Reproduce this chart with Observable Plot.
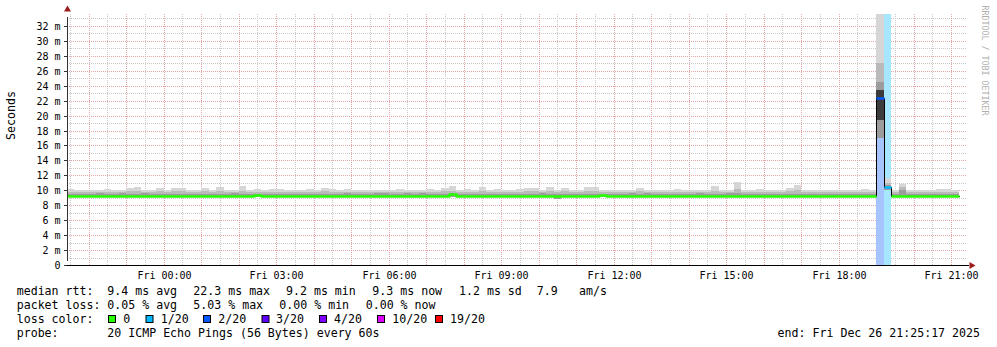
<!DOCTYPE html>
<html><head><meta charset="utf-8">
<script src="https://cdn.jsdelivr.net/npm/d3@7"></script>
<script src="https://cdn.jsdelivr.net/npm/@observablehq/plot@0.6"></script>
<style>
html,body{margin:0;padding:0;background:#fff;}
#wrap{width:997px;height:347px;overflow:hidden;background:#fff;}
svg{display:block;}
</style></head><body><div id="wrap"></div>
<script>
// ---- time frame (UTC used as local graph time) ----
const endTime = new Date(Date.UTC(2025, 11, 26, 21, 25, 17));
const startTime = new Date(+endTime - 24 * 3600 * 1000);
const firstBinStart = Date.UTC(2025, 11, 25, 21, 24, 0);
const binMinutes = 12;

// ---- per-bin values (ms), one per 12-minute step ----
const median = [
 9.25,9.25,9.2,9.25,9.25,9.25,9.2,9.25,9.3,9.25,
 9.25,9.25,9.25,9.2,9.25,9.25,9.25,9.25,9.3,9.25,
 9.25,9.25,9.25,9.25,9.25,9.4,9.25,9.25,9.25,9.2,
 9.25,9.25,9.25,9.25,9.25,9.2,9.25,9.25,9.25,9.25,
 9.25,9.25,9.2,9.25,9.25,9.25,9.25,9.25,9.25,9.25,
 9.25,9.45,9.25,9.25,9.25,9.25,9.2,9.25,9.25,9.25,
 9.25,9.25,9.25,9.25,9.25,9.2,9.25,9.25,9.25,9.25,
 9.25,9.4,9.25,9.25,9.2,9.25,9.25,9.25,9.25,9.25,
 9.25,9.25,9.25,9.25,9.25,9.25,9.25,9.25,9.25,9.25,
 9.25,9.25,9.25,9.25,9.25,9.25,9.3,9.25,9.25,9.25,
 9.25,9.25,9.25,9.25,9.25,9.25,9.25,9.25,22.3,10.4,
 9.2,9.25,9.25,9.25,9.25,9.25,9.25,9.25,9.3];
const lossCount = [
 0,0,0,0,0,0,0,0,0,0, 0,0,0,0,0,0,0,0,0,0,
 0,0,0,0,0,0,0,0,0,0, 0,0,0,0,0,0,0,0,0,0,
 0,0,0,0,0,0,0,0,0,0, 0,0,0,0,0,0,0,0,0,0,
 0,0,0,0,0,0,0,0,0,0, 0,0,0,0,0,0,0,0,0,0,
 0,0,0,0,0,0,0,0,0,0, 0,0,0,0,0,0,0,0,0,0,
 0,0,0,0,0,0,0,0,2,1, 0,0,0,0,0,0,0,0,0];
const smokeTop = [
 10.15,10.05,10.05,10.1,10.05,10.15,10.05,10.05,10.3,10.45,
 10.05,10.1,10.3,10.05,10.3,10.3,10.05,10.1,10.3,10.05,
 10.45,10.05,10.05,10.6,10.05,10.15,10.05,10.15,10.15,10.05,
 10.05,10.1,10.15,10.05,10.3,10.15,10.05,10.15,10.05,10.1,
 10.05,10.05,10.1,10.05,10.15,10.05,10.05,10.1,10.15,10.05,
 10.3,10.6,10.05,10.15,10.05,10.4,10.05,10.15,10.05,10.05,
 10.15,10.3,10.3,10.05,10.45,10.05,10.3,10.05,10.1,10.45,
 10.45,10.05,10.05,10.1,10.05,10.05,10.3,10.05,10.05,10.1,
 10.05,10.15,10.05,10.05,10.1,10.05,10.6,10.05,10.05,11.1,
 10.05,10.05,10.15,10.05,10.05,10.1,10.3,10.7,10.05,10.05,
 10.05,10.1,10.05,10.05,10.05,10.1,10.15,10.05,33.6,11.6,
 10.05,10.9,10.05,10.1,10.05,10.05,10.15,10.15,10.1];
const smokeUpper = [
 9.75,9.75,9.75,9.75,9.75,9.75,9.75,9.75,9.85,9.9,
 9.75,9.75,9.85,9.75,9.85,9.85,9.75,9.75,9.85,9.75,
 9.9,9.75,9.75,9.95,9.75,9.8,9.75,9.75,9.75,9.75,
 9.75,9.75,9.75,9.75,9.85,9.75,9.75,9.75,9.75,9.75,
 9.75,9.75,9.75,9.75,9.75,9.75,9.75,9.75,9.75,9.75,
 9.85,9.95,9.75,9.75,9.75,9.85,9.75,9.75,9.75,9.75,
 9.75,9.85,9.85,9.75,9.9,9.75,9.85,9.75,9.75,9.9,
 9.9,9.8,9.75,9.75,9.75,9.75,9.85,9.75,9.75,9.75,
 9.75,9.75,9.75,9.75,9.75,9.75,9.95,9.75,9.75,10.2,
 9.75,9.75,9.75,9.75,9.75,9.75,9.85,10.0,9.75,9.75,
 9.75,9.75,9.75,9.75,9.75,9.75,9.75,9.75,27.0,11.0,
 9.75,10.4,9.75,9.75,9.75,9.75,9.75,9.75,9.75];
const smokeInner = [
 9.45,9.45,9.45,9.45,9.6,9.45,9.45,9.6,9.45,9.5,
 9.6,9.45,9.45,9.45,9.5,9.45,9.45,9.45,9.45,9.45,
 9.5,9.45,9.6,9.5,9.45,9.55,9.45,9.45,9.45,9.45,
 9.45,9.45,9.45,9.45,9.45,9.45,9.45,9.6,9.45,9.45,
 9.45,9.6,9.6,9.45,9.45,9.6,9.45,9.6,9.45,9.45,
 9.45,9.6,9.45,9.45,9.45,9.5,9.45,9.45,9.45,9.45,
 9.45,9.45,9.45,9.6,9.5,9.45,9.45,9.45,9.45,9.5,
 9.5,9.55,9.45,9.45,9.45,9.6,9.45,9.6,9.45,9.45,
 9.45,9.45,9.45,9.45,9.6,9.45,9.5,9.45,9.6,9.6,
 9.45,9.45,9.45,9.45,9.45,9.45,9.5,9.55,9.45,9.45,
 9.45,9.45,9.45,9.45,9.45,9.45,9.45,9.45,24.5,10.7,
 9.45,10.1,9.45,9.45,9.45,9.45,9.45,9.45,9.45];
const smokeBottom = [
 9.05,9.05,9.05,9.05,9.05,9.05,9.05,9.05,9.05,9.05,
 9.05,9.05,9.05,9.05,9.05,9.05,9.05,9.05,9.05,9.05,
 9.05,9.05,9.05,9.05,9.05,9.05,9.05,9.05,9.05,9.05,
 9.05,9.05,9.05,9.05,9.05,9.05,9.05,9.05,9.05,9.05,
 9.05,9.05,9.05,9.05,9.05,9.05,9.05,9.05,9.05,9.05,
 9.05,9.05,9.05,9.05,9.05,9.05,9.05,9.05,9.05,9.05,
 9.05,9.05,9.05,9.05,9.05,8.9,9.05,9.05,9.05,9.05,
 9.05,9.05,9.05,9.05,9.05,9.05,9.05,9.05,9.05,9.05,
 9.05,9.05,9.05,9.05,9.05,9.05,9.05,9.05,9.05,9.05,
 9.05,9.05,9.05,9.05,9.05,9.05,9.05,9.05,9.05,9.05,
 9.05,9.05,9.05,9.05,9.05,9.05,9.05,9.05,17.0,10.0,
 9.05,9.1,9.05,9.05,9.05,9.05,9.05,9.05,9.05];
// darkest core of the smoke in the spike step
const coreBins = [108];
const coreLow = [19.4];
const coreHigh = [23.4];

// ---- loss colour legend ----
const lossLevels = [0, 1, 2, 3, 4, 10, 19];
const lossLabels = ["0", "1/20", "2/20", "3/20", "4/20", "10/20", "19/20"];
const lossColors = ["#26ff00", "#00b8ff", "#0059ff", "#5e00ff", "#7e00ff", "#dd00ff", "#ff0000"];

// ---- axes ----
const yTickValues = [0,2,4,6,8,10,12,14,16,18,20,22,24,26,28,30,32];
const yTickLabels = ["0","2 m","4 m","6 m","8 m","10 m","12 m","14 m","16 m","18 m","20 m","22 m","24 m","26 m","28 m","30 m","32 m"];
const xTickValues = ["2025-12-26T00:00:00Z","2025-12-26T03:00:00Z","2025-12-26T06:00:00Z","2025-12-26T09:00:00Z",
  "2025-12-26T12:00:00Z","2025-12-26T15:00:00Z","2025-12-26T18:00:00Z","2025-12-26T21:00:00Z"].map(s => new Date(s));
const xTickLabels = ["Fri 00:00","Fri 03:00","Fri 06:00","Fri 09:00","Fri 12:00","Fri 15:00","Fri 18:00","Fri 21:00"];
const yMax = 33.6;

// ---- legend texts ----
const rttLabel = "median rtt:";
const rttStats = ["9.4 ms avg", "22.3 ms max", "9.2 ms min", "9.3 ms now", "1.2 ms sd", "7.9", "am/s"];
const lossLabel = "packet loss:";
const lossStats = ["0.05 % avg", "5.03 % max", "0.00 % min", "0.00 % now"];
const colorLabel = "loss color:";
const probeLabel = "probe:";
const probeText = "20 ICMP Echo Pings (56 Bytes) every 60s";
const endText = "end: Fri Dec 26 21:25:17 2025";
const yLabel = "Seconds";
const watermark = "RRDTOOL / TOBI OETIKER";

// ---- build tables ----
const stepMs = binMinutes * 60 * 1000;
const classOf = l => { let k = 0; lossLevels.forEach((v, i) => { if (l >= v) k = i; }); return k; };
const bins = median.map((m, i) => {
  const a = firstBinStart + i * stepMs;
  return {t0: new Date(Math.max(a, +startTime)), t1: new Date(a + stepMs), median: m,
    loss: lossCount[i], cls: classOf(lossCount[i]),
    top: smokeTop[i], upper: smokeUpper[i], inner: smokeInner[i], bottom: smokeBottom[i]};
});
const cores = coreBins.map((b, k) => ({t0: bins[b].t0, t1: bins[b].t1, lo: coreLow[k], hi: coreHigh[k]}));
const lossBins = bins.filter(b => b.loss > 0);
let run = 0;
const pts = [];
bins.forEach((b, i) => {
  if (i > 0 && b.cls !== bins[i - 1].cls) run++;
  pts.push({t: b.t0, m: b.median, cls: b.cls, run}, {t: b.t1, m: b.median, cls: b.cls, run});
});
const lightOf = c => d3.interpolateRgb("#ffffff", c)(0.35);

const minorY = d3.range(1, 34, 2);
const majorY = d3.range(2, 34, 2);
const minorX = d3.utcMinute.every(30).range(startTime, endTime).filter(d => d.getUTCMinutes() === 30);
const majorX = d3.utcHour.range(startTime, endTime);
const gridMinor = "#c8c8c8", gridMajor = "#e6a6a6";
const crisp = {shapeRendering: "crispEdges"};

const chart = Plot.plot({
  width: 997, height: 285,
  marginLeft: 67, marginRight: 30, marginTop: 14, marginBottom: 20,
  style: {fontFamily: "'DejaVu Sans Mono', monospace", fontSize: "10px", background: "#fff", color: "#000", overflow: "visible"},
  x: {type: "utc", domain: [startTime, endTime], round: true},
  y: {domain: [0, yMax], round: true},
  marks: [
    Plot.ruleY(minorY, {stroke: gridMinor, strokeDasharray: "1,1"}),
    Plot.ruleX(minorX, {stroke: gridMinor, strokeDasharray: "1,1"}),
    Plot.ruleY(majorY, {stroke: gridMajor, strokeDasharray: "1,1"}),
    Plot.ruleX(majorX, {stroke: gridMajor, strokeDasharray: "1,1"}),
    Plot.rectY(lossBins, {x1: "t0", x2: "t1", y1: 0, y2: yMax, fill: d => lightOf(lossColors[d.cls]), ...crisp}),
    Plot.rectY(bins, {x1: "t0", x2: "t1", y1: "bottom", y2: "top", fill: "#d6d6d6", ...crisp}),
    Plot.rectY(bins, {x1: "t0", x2: "t1", y1: "bottom", y2: "upper", fill: "#bababa", ...crisp}),
    Plot.rectY(bins, {x1: "t0", x2: "t1", y1: "bottom", y2: "inner", fill: "#9c9c9c", ...crisp}),
    Plot.rectY(cores, {x1: "t0", x2: "t1", y1: "lo", y2: "hi", fill: "#3c3c3c", ...crisp}),
    Plot.line(pts, {x: "t", y: "m", stroke: "#000", strokeWidth: 1}),
    Plot.line(pts, {x: "t", y: "m", z: "run", stroke: d => lossColors[d.cls], strokeWidth: 2.5, strokeLinecap: "butt"}),
    Plot.ruleX([startTime], {y1: 0, y2: yMax, stroke: "#333", insetTop: -4, insetBottom: -3}),
    Plot.ruleY([0], {stroke: "#000", insetLeft: -3, insetRight: -2}),
    Plot.dot([startTime], {x: d => d, y: yMax, dy: -5, symbol: "triangle", r: 2.6, fill: "#9b1c1c", stroke: "none"}),
    Plot.dot([endTime], {x: d => d, y: 0, dx: 4, symbol: "triangle", rotate: 90, r: 2.6, fill: "#9b1c1c", stroke: "none"}),
    Plot.axisY(yTickValues, {tickFormat: d => yTickLabels[yTickValues.indexOf(d)], tickSize: 3, tickPadding: 4, fontSize: 10, label: null, stroke: "#333"}),
    Plot.axisX(xTickValues, {tickFormat: d => xTickLabels[xTickValues.findIndex(v => +v === +d)], tickSize: 0, tickPadding: 6, fontSize: 10, label: null}),
    Plot.text([yLabel], {text: d => d, frameAnchor: "left", dx: -56, rotate: -90, fontSize: 11.6, fill: "#000"}),
    Plot.text([watermark], {text: d => d, frameAnchor: "top-right", dx: 20, dy: -9, rotate: 90, textAnchor: "start", fontSize: 8.3, fill: "#b0b0b0"})
  ]
});

// ---- legend below the chart ----
const leg = d3.create("svg").attr("width", 997).attr("height", 62)
  .style("font-family", "'DejaVu Sans Mono', monospace").style("font-size", "11.6px");
const put = (x, y, s, anchor) => leg.append("text").attr("x", x).attr("y", y).attr("fill", "#000")
  .attr("text-anchor", anchor || "start").style("white-space", "pre").text(s);
const rttX = [107.3, 193.3, 286, 372.3, 459, 536.7, 579];
const lossX = [107.3, 193.3, 279.3, 365.7];
const swatchX = [108.5, 146, 203.5, 262, 319.5, 377.5, 435.5];
const swatchTextX = [123.3, 160.7, 218.3, 276, 334, 392.3, 450];
put(16.7, 10, rttLabel);
rttStats.forEach((s, i) => put(rttX[i], 10, s));
put(16.7, 24, lossLabel);
lossStats.forEach((s, i) => put(lossX[i], 24, s));
put(16.7, 38, colorLabel);
lossColors.forEach((c, i) => {
  leg.append("rect").attr("x", swatchX[i]).attr("y", 30.5).attr("width", 7).attr("height", 7)
    .attr("fill", c).attr("stroke", "#000").attr("stroke-width", 1);
  put(swatchTextX[i], 38, lossLabels[i]);
});
put(16.7, 52, probeLabel);
put(107.3, 52, probeText);
put(980, 52, endText, "end");

const wrap = document.getElementById("wrap");
wrap.appendChild(chart);
wrap.appendChild(leg.node());
</script>
</body></html>
